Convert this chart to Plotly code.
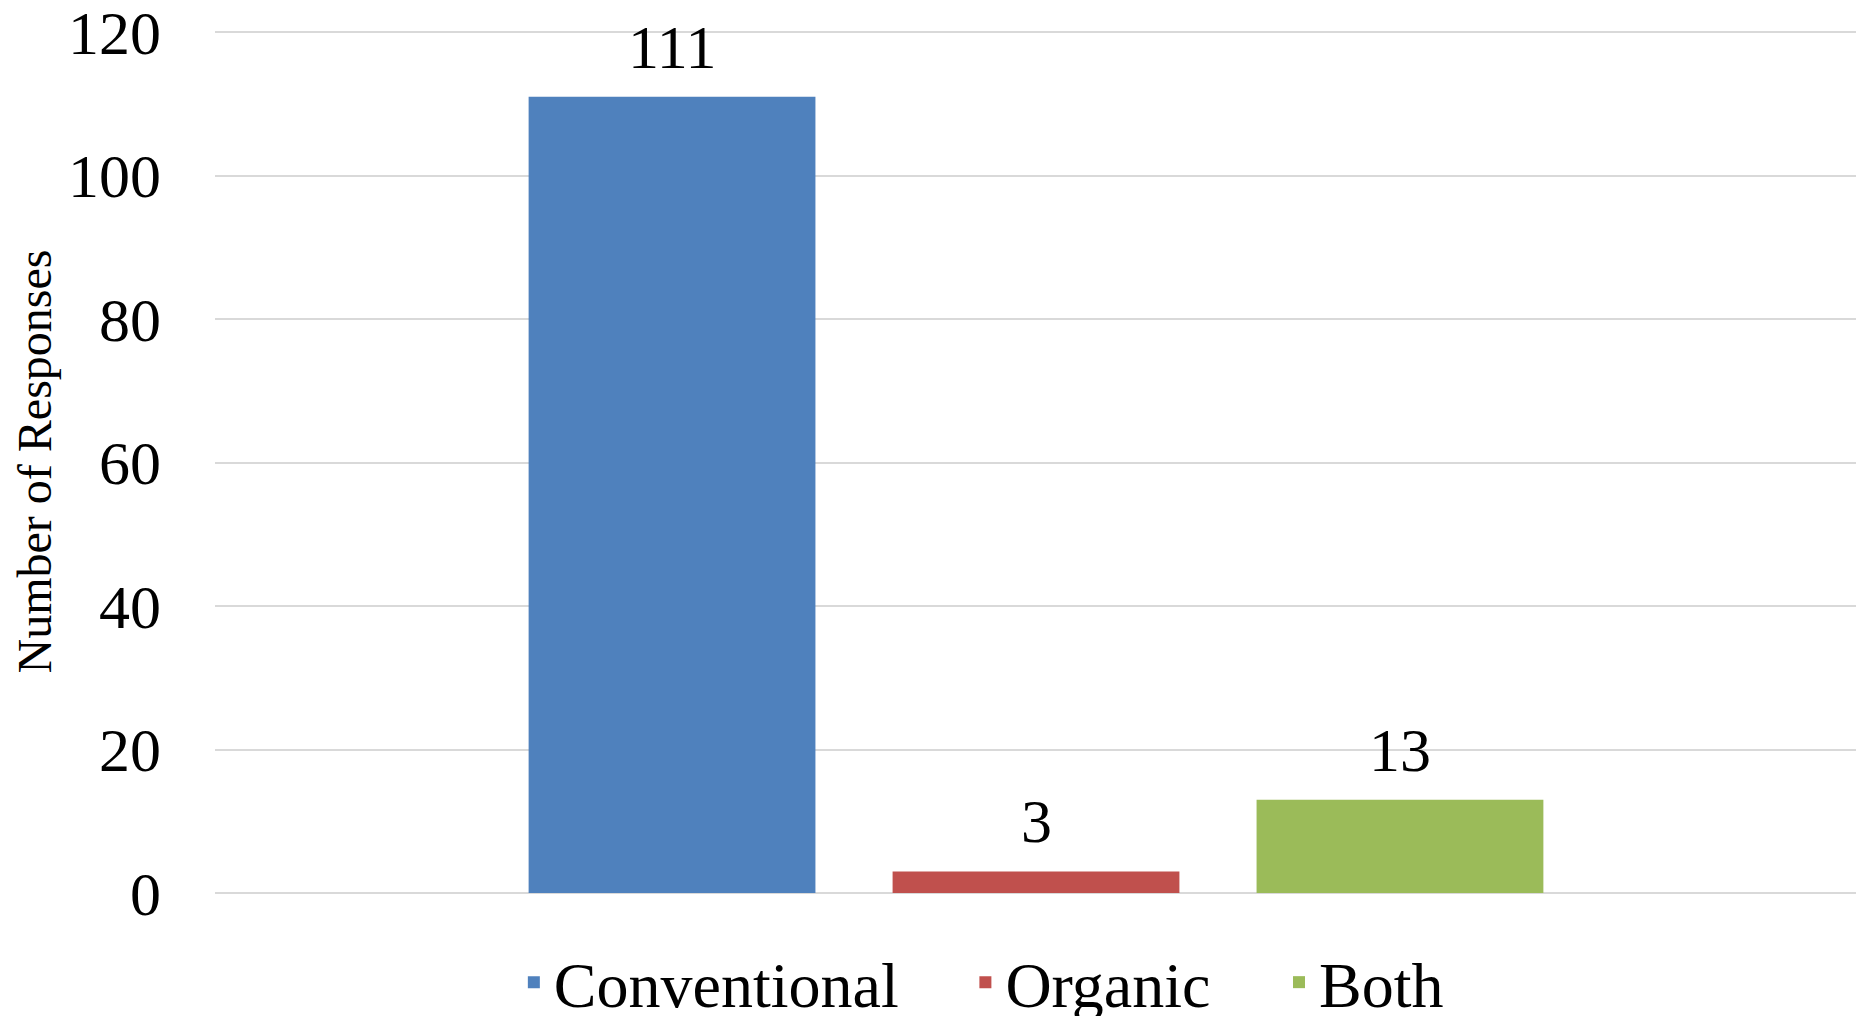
import plotly.graph_objects as go

categories = [""]
series_names = ["Conventional", "Organic", "Both"]
series_values = [[111], [3], [13]]
series_colors = ["#4F81BD", "#C0504D", "#9BBB59"]
y_ticks = [0, 20, 40, 60, 80, 100, 120]

FONT = "Liberation Serif, Times New Roman, serif"
BARGAP = 0.335
BARGROUPGAP = 0.212

legend_ids = ["legend", "legend2", "legend3"]
legend_x = [0.182, 0.457, 0.648]

fig = go.Figure()
for i, (name, vals, col) in enumerate(zip(series_names, series_values, series_colors)):
    fig.add_trace(go.Bar(
        x=categories, y=vals, name=name,
        marker=dict(color=col, line=dict(width=0)),
        legend=legend_ids[i],
        cliponaxis=False,
    ))

# value labels placed at each grouped bar's centre (derived from bar layout params)
n = len(series_names)
group_w = 1 - BARGAP
slot = group_w / n
for i, vals in enumerate(series_values):
    for j, v in enumerate(vals):
        fig.add_annotation(
            x=j - group_w / 2 + slot * (i + 0.5), y=v, xref="x", yref="y",
            text=str(v), showarrow=False, yanchor="bottom", yshift=14,
            font=dict(family=FONT, size=62, color="black"),
        )

legend_common = dict(orientation="h", xanchor="left", yref="container", y=0.0813, yanchor="top",
                     font=dict(family=FONT, size=64, color="black"),
                     itemwidth=30, bgcolor="rgba(0,0,0,0)")
layout_legends = {}
for lid, lx in zip(legend_ids, legend_x):
    layout_legends[lid] = dict(legend_common, x=lx)

fig.update_layout(
    width=1856, height=1008,
    margin=dict(l=207, r=7, t=22, b=123, autoexpand=False),
    paper_bgcolor="white", plot_bgcolor="white",
    barmode="group", bargap=BARGAP, bargroupgap=BARGROUPGAP,
    font=dict(family=FONT, color="black"),
    showlegend=True,
    **layout_legends,
)
fig.update_xaxes(showticklabels=False, showgrid=False, zeroline=False, showline=False, ticks="",
                 automargin=False)
fig.update_yaxes(
    range=[0, 120.3], tickvals=y_ticks, ticktext=[str(t) for t in y_ticks],
    showgrid=True, gridcolor="#D9D9D9", gridwidth=1.5,
    zeroline=True, zerolinecolor="#D9D9D9", zerolinewidth=1.5,
    showline=False, ticks="", ticklabelstandoff=53, ticklabeloverflow="allow",
    tickfont=dict(family=FONT, size=62, color="black"),
    title=dict(text="Number of Responses", font=dict(family=FONT, size=48, color="black"), standoff=2),
    automargin=False,
)
fig.write_html("out.html")
